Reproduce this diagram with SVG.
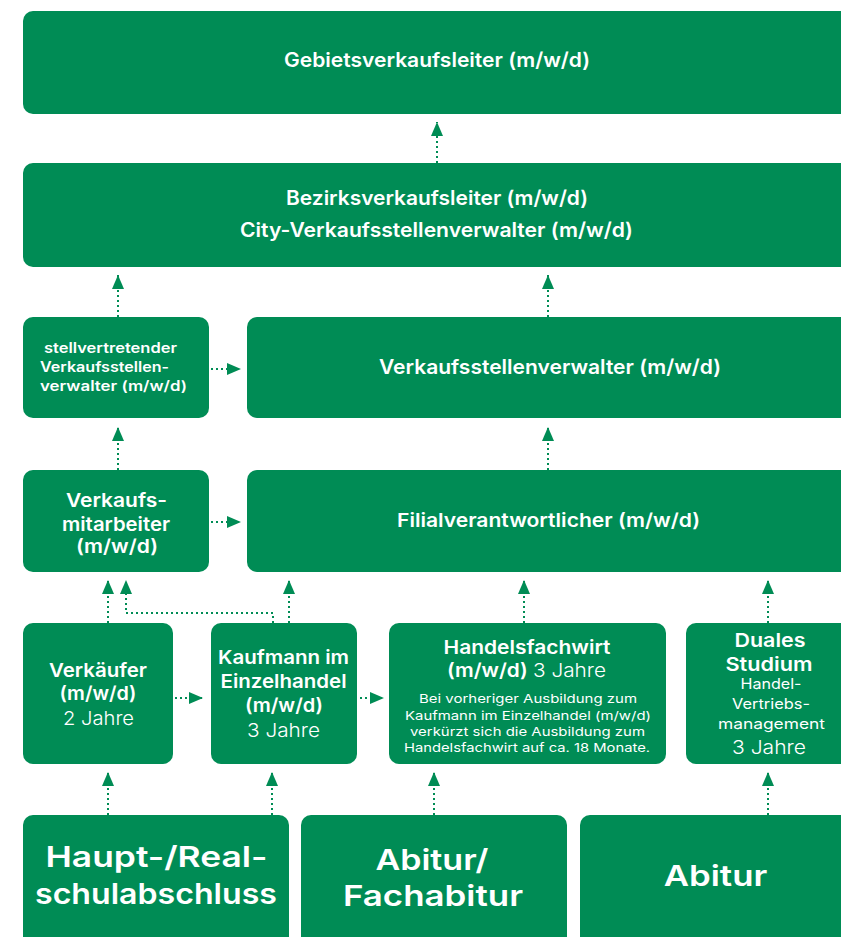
<svg xmlns="http://www.w3.org/2000/svg" width="841" height="937" viewBox="0 0 841 937">
<defs>
<style>
.box{fill:#008C55}
.t{fill:#fff;font-family:Inter,"Liberation Sans",sans-serif;font-weight:600;text-anchor:middle}
.s{text-anchor:start}
.l{font-weight:300}
.r{font-weight:400}
.c{stroke:#008C55;stroke-width:2;stroke-dasharray:2 3;fill:none}
</style>
<marker id="ah" markerUnits="userSpaceOnUse" markerWidth="14" markerHeight="14" viewBox="0 0 14 12" refX="14" refY="6" orient="auto">
<path d="M0,0 L14,6 L0,12 Z" fill="#008C55"/>
</marker>
</defs>
<rect width="841" height="937" fill="#fff"/>
<g id="gebietsverkaufsleiter"><rect class="box" x="23" y="11" width="830" height="103" rx="10"/><text class="t" x="437" y="67" font-size="20" textLength="306" lengthAdjust="spacingAndGlyphs">Gebietsverkaufsleiter (m/w/d)</text></g>
<g id="bezirksverkaufsleiter"><rect class="box" x="23" y="163" width="830" height="104" rx="10"/><text class="t" x="437" y="205" font-size="20" textLength="302" lengthAdjust="spacingAndGlyphs">Bezirksverkaufsleiter (m/w/d)</text><text class="t" x="436.5" y="237" font-size="20" textLength="393" lengthAdjust="spacingAndGlyphs">City-Verkaufsstellenverwalter (m/w/d)</text></g>
<g id="stellvertretender"><rect class="box" x="23" y="317" width="186" height="101" rx="10"/><text class="t s" x="44" y="353" font-size="14" textLength="133" lengthAdjust="spacingAndGlyphs">stellvertretender</text><text class="t s" x="40" y="372" font-size="14" textLength="129" lengthAdjust="spacingAndGlyphs">Verkaufsstellen-</text><text class="t s" x="40" y="391" font-size="14" textLength="147" lengthAdjust="spacingAndGlyphs">verwalter  (m/w/d)</text></g>
<g id="verkaufsstellenverwalter"><rect class="box" x="247" y="317" width="606" height="101" rx="10"/><text class="t" x="550" y="374" font-size="20" textLength="342" lengthAdjust="spacingAndGlyphs">Verkaufsstellenverwalter (m/w/d)</text></g>
<g id="verkaufsmitarbeiter"><rect class="box" x="23" y="470" width="186" height="102" rx="10"/><text class="t" x="116.5" y="507" font-size="19" textLength="101" lengthAdjust="spacingAndGlyphs">Verkaufs-</text><text class="t" x="116" y="531" font-size="19" textLength="108" lengthAdjust="spacingAndGlyphs">mitarbeiter</text><text class="t" x="117" y="553" font-size="19" textLength="82" lengthAdjust="spacingAndGlyphs">(m/w/d)</text></g>
<g id="filialverantwortlicher"><rect class="box" x="247" y="470" width="606" height="102" rx="10"/><text class="t" x="548.5" y="527" font-size="19" textLength="303" lengthAdjust="spacingAndGlyphs">Filialverantwortlicher (m/w/d)</text></g>
<g id="verkaeufer"><rect class="box" x="23" y="623" width="150" height="141" rx="10"/><text class="t" x="98" y="677" font-size="19" textLength="98" lengthAdjust="spacingAndGlyphs">Verkäufer</text><text class="t" x="98" y="700" font-size="19" textLength="77" lengthAdjust="spacingAndGlyphs">(m/w/d)</text><text class="t l" x="98.5" y="725" font-size="19" textLength="71" lengthAdjust="spacingAndGlyphs">2 Jahre</text></g>
<g id="kaufmann"><rect class="box" x="211" y="623" width="146" height="141" rx="10"/><text class="t" x="283.5" y="664" font-size="19" textLength="131" lengthAdjust="spacingAndGlyphs">Kaufmann im</text><text class="t" x="283.5" y="688" font-size="19" textLength="126" lengthAdjust="spacingAndGlyphs">Einzelhandel</text><text class="t" x="284" y="712" font-size="19" textLength="78" lengthAdjust="spacingAndGlyphs">(m/w/d)</text><text class="t l" x="283.5" y="737" font-size="19" textLength="73" lengthAdjust="spacingAndGlyphs">3 Jahre</text></g>
<g id="handelsfachwirt"><rect class="box" x="389" y="623" width="277" height="141" rx="10"/><text class="t" x="527" y="654" font-size="19" textLength="167" lengthAdjust="spacingAndGlyphs">Handelsfachwirt</text><text class="t" x="526.5" y="677" font-size="19" textLength="159" lengthAdjust="spacingAndGlyphs">(m/w/d) <tspan class="l">3 Jahre</tspan></text>
<text class="t r" x="528" y="703" font-size="12" textLength="218" lengthAdjust="spacingAndGlyphs">Bei vorheriger Ausbildung zum</text><text class="t r" x="528" y="720" font-size="12" textLength="246" lengthAdjust="spacingAndGlyphs">Kaufmann im Einzelhandel (m/w/d)</text><text class="t r" x="527.5" y="735.5" font-size="12" textLength="235" lengthAdjust="spacingAndGlyphs">verkürzt sich die Ausbildung zum</text><text class="t r" x="527" y="751.5" font-size="12" textLength="246" lengthAdjust="spacingAndGlyphs">Handelsfachwirt auf ca. 18 Monate.</text></g>
<g id="duales"><rect class="box" x="686" y="623" width="167" height="141" rx="10"/><text class="t" x="770" y="647" font-size="19" textLength="71" lengthAdjust="spacingAndGlyphs">Duales</text><text class="t" x="769" y="671" font-size="19" textLength="87" lengthAdjust="spacingAndGlyphs">Studium</text><text class="t r" x="771" y="689" font-size="14.5" textLength="61" lengthAdjust="spacingAndGlyphs">Handel-</text><text class="t r" x="771" y="709" font-size="14.5" textLength="78" lengthAdjust="spacingAndGlyphs">Vertriebs-</text><text class="t r" x="771.5" y="729" font-size="14.5" textLength="107" lengthAdjust="spacingAndGlyphs">management</text><text class="t l" x="769" y="754" font-size="19" textLength="74" lengthAdjust="spacingAndGlyphs">3 Jahre</text></g>
<g id="hauptschule"><rect class="box" x="23" y="815" width="266" height="135" rx="10"/><text class="t" x="156.5" y="867" font-size="29" textLength="222" lengthAdjust="spacingAndGlyphs">Haupt-/Real-</text><text class="t" x="156" y="904" font-size="29" textLength="242" lengthAdjust="spacingAndGlyphs">schulabschluss</text></g>
<g id="fachabitur"><rect class="box" x="301" y="815" width="266" height="135" rx="10"/><text class="t" x="432" y="870" font-size="29" textLength="113" lengthAdjust="spacingAndGlyphs">Abitur/</text><text class="t" x="433" y="906" font-size="29" textLength="180" lengthAdjust="spacingAndGlyphs">Fachabitur</text></g>
<g id="abitur"><rect class="box" x="580" y="815" width="273" height="135" rx="10"/><text class="t" x="715.5" y="886" font-size="29" textLength="103.5" lengthAdjust="spacingAndGlyphs">Abitur</text></g>
<g id="connectors">
<path class="c" d="M437,163 V122" marker-end="url(#ah)"/>
<path class="c" d="M118,317 V275" marker-end="url(#ah)"/>
<path class="c" d="M548,317 V275" marker-end="url(#ah)"/>
<path class="c" d="M211,369 H241" marker-end="url(#ah)"/>
<path class="c" d="M118,470 V427" marker-end="url(#ah)"/>
<path class="c" d="M548,470 V427" marker-end="url(#ah)"/>
<path class="c" d="M211,522 H241" marker-end="url(#ah)"/>
<path class="c" d="M108,623 V580" marker-end="url(#ah)"/>
<path class="c" d="M273,623 V613 H126 V580" marker-end="url(#ah)"/>
<path class="c" d="M289,623 V580" marker-end="url(#ah)"/>
<path class="c" d="M524,623 V580" marker-end="url(#ah)"/>
<path class="c" d="M768,623 V580" marker-end="url(#ah)"/>
<path class="c" d="M175,698 H203" marker-end="url(#ah)"/>
<path class="c" d="M360,698 H384" marker-end="url(#ah)"/>
<path class="c" d="M108,815 V772" marker-end="url(#ah)"/>
<path class="c" d="M272,815 V772" marker-end="url(#ah)"/>
<path class="c" d="M434,815 V772" marker-end="url(#ah)"/>
<path class="c" d="M768,815 V772" marker-end="url(#ah)"/>
</g>
</svg>
